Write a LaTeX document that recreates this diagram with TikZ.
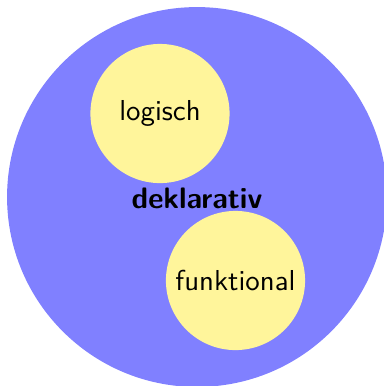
\documentclass[tikz,border=0pt]{standalone}
\definecolor{outerblue}{RGB}{128,128,255}
\definecolor{innery}{RGB}{255,245,155}
\begin{document}
\begin{tikzpicture}[x=0.378pt,y=-0.378pt,
  font=\fontsize{10.9}{13}\sffamily,
  bigcirc/.style={circle,fill=outerblue,minimum size=143.6pt,inner sep=0pt},
  smallcirc/.style={circle,fill=innery,minimum size=52.6pt,inner sep=0pt}]
\useasboundingbox (0,0) rectangle (384,386);
\begin{scope}
\clip (0,0) rectangle (384,386);
\node[bigcirc] (dek) at (197,197) {};
\end{scope}
\node[font=\fontsize{11.2}{13}\sffamily\bfseries] (dektext) at (197,198) {deklarativ};
\node[smallcirc] (log) at (160,113.5) {logisch};
\node[smallcirc] (fun) at (235.5,280.5) {funktional};
\end{tikzpicture}
\end{document}
